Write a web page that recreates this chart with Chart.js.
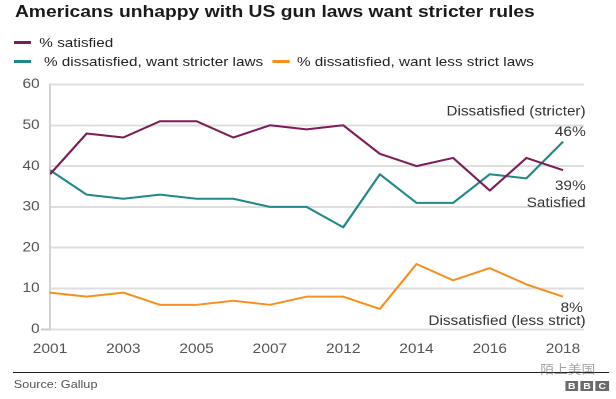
<!DOCTYPE html>
<html>
<head>
<meta charset="utf-8">
<script src="https://cdn.jsdelivr.net/npm/chart.js@4"></script>
<style>
  html, body { margin: 0; padding: 0; background: #fff; }
  body { width: 616px; height: 399px; overflow: hidden; }
  /* the source picture is stretched sideways, so the page is too */
  #page { position: relative; width: 536px; height: 399px; transform: scaleX(1.1493); transform-origin: 0 0;
          font-family: 'Liberation Sans', Arial, sans-serif; }
  #page canvas { position: absolute; left: 0; top: 0; }
  .txt { position: absolute; white-space: nowrap; line-height: 1; }
  .sw { position: absolute; height: 3px; width: 15px; }
  #title { left: 13px; top: 3.9px; font-size: 16.8px; font-weight: bold; color: #1a1a1a; }
  .leg { font-size: 13.3px; color: #222; }
  #rule { position: absolute; left: 11.3px; top: 372px; width: 519px; height: 1px; background: #222; }
  #source { left: 12px; top: 378.7px; font-size: 11px; color: #555; }
  .bbc { position: absolute; top: 381px; width: 11.6px; height: 10px; background: #6b6b6b; color: #fff;
         font: bold 9px 'Liberation Sans', Arial, sans-serif; text-align: center; line-height: 10px; }
  #mark { left: 470px; top: 363px; font-size: 12px; font-family: 'Noto Sans CJK SC', sans-serif; color: rgba(100,100,100,0.6); }
</style>
</head>
<body>
<div id="page">
  <canvas id="chart" width="536" height="399"></canvas>
  <div id="title" class="txt">Americans unhappy with US gun laws want stricter rules</div>

  <div class="sw" style="left:12.2px; top:40.5px; background:#7b1d58"></div>
  <div class="txt leg" style="left:34.2px; top:35.7px">% satisfied</div>
  <div class="sw" style="left:12.2px; top:59.5px; background:#22898a"></div>
  <div class="txt leg" style="left:38.3px; top:54.7px">% dissatisfied, want stricter laws</div>
  <div class="sw" style="left:237px; top:59.5px; background:#f7901e"></div>
  <div class="txt leg" style="left:258.4px; top:54.7px">% dissatisfied, want less strict laws</div>

  <div id="rule"></div>
  <div id="source" class="txt">Source: Gallup</div>
  <div id="mark" class="txt">陌上美国</div>
  <div class="bbc" style="left:491.6px">B</div>
  <div class="bbc" style="left:504.9px">B</div>
  <div class="bbc" style="left:518.2px">C</div>
</div>

<script>
const categories = ["2001", "2002", "2003", "2004", "2005", "2006", "2007", "2008",
                    "2012", "2013", "2014", "2015", "2016", "2017", "2018"];
const satisfied  = [38, 48, 47, 51, 51, 47, 50, 49, 50, 43, 40, 42, 34, 42, 39];
const stricter   = [39, 33, 32, 33, 32, 32, 30, 30, 25, 38, 31, 31, 38, 37, 46];
const lessStrict = [9, 8, 9, 6, 6, 7, 6, 8, 8, 5, 16, 12, 15, 11, 8];
const xTickLabels = ["2001", "2003", "2005", "2007", "2012", "2014", "2016", "2018"];
const yTicks = [0, 10, 20, 30, 40, 50, 60];

const purple = "#7b1d58";
const teal = "#22898a";
const orange = "#f7901e";

Chart.defaults.font.family = "'Liberation Sans', Arial, sans-serif";

const toPoints = (arr) => arr.map((v, i) => ({ x: i, y: v }));

// end-of-line labels, placed off the last point of each series
const endLabels = {
  id: "endLabels",
  afterDatasetsDraw(chart) {
    const ctx = chart.ctx;
    const right = chart.chartArea.right;
    const last = (i) => {
      const pts = chart.getDatasetMeta(i).data;
      return pts[pts.length - 1];
    };
    const pct = (arr) => arr[arr.length - 1] + "%";
    ctx.save();
    ctx.font = "13.4px 'Liberation Sans', Arial, sans-serif";
    ctx.fillStyle = "#333";
    ctx.textAlign = "right";
    ctx.textBaseline = "alphabetic";

    let p = last(1);
    ctx.fillText("Dissatisfied (stricter)", right + 1.5, p.y - 26);
    ctx.fillText(pct(stricter), right + 1.5, p.y - 5.5);

    p = last(0);
    ctx.fillText(pct(satisfied), right + 1.5, p.y + 20);
    ctx.fillText("Satisfied", right + 1.5, p.y + 37);

    p = last(2);
    ctx.fillText(pct(lessStrict), right - 1, p.y + 15.5);
    ctx.fillText("Dissatisfied (less strict)", right + 1.5, p.y + 28.5);
    ctx.restore();
  }
};

new Chart(document.getElementById("chart"), {
  type: "line",
  data: {
    datasets: [
      { label: "% satisfied", data: toPoints(satisfied), borderColor: purple },
      { label: "% dissatisfied, want stricter laws", data: toPoints(stricter), borderColor: teal },
      { label: "% dissatisfied, want less strict laws", data: toPoints(lessStrict), borderColor: orange },
    ],
  },
  options: {
    responsive: false,
    devicePixelRatio: 2,
    animation: false,
    elements: {
      line: { borderWidth: 2, tension: 0, fill: false, borderJoinStyle: "round" },
      point: { radius: 0, hoverRadius: 0 },
    },
    layout: { padding: { left: 0, right: 27.9, top: 84.5, bottom: 39.7 } },
    scales: {
      x: {
        type: "linear",
        min: 0,
        max: categories.length - 1 + 0.57,
        afterFit: (s) => { s.height = 30; },
        afterBuildTicks: (s) => { s.ticks = xTickLabels.map((l) => ({ value: categories.indexOf(l) })); },
        grid: { display: false, drawTicks: false },
        border: { display: false },
        ticks: {
          color: "#555",
          font: { size: 13.5 },
          padding: 12,
          maxRotation: 0,
          autoSkip: false,
          callback: (v) => categories[v],
        },
      },
      y: {
        min: 0,
        max: 60,
        afterFit: (s) => { s.width = 43.5; },
        afterBuildTicks: (s) => { s.ticks = yTicks.map((v) => ({ value: v })); },
        grid: {
          color: "#dedede",
          lineWidth: 2,
          tickLength: 8,
          tickColor: (c) => (c.tick && c.tick.value === 0 ? "#ccc" : "rgba(0,0,0,0)"),
        },
        border: { display: true, color: "#cfcfcf", width: 1.8 },
        ticks: { color: "#555", font: { size: 13.5 }, padding: 1 },
      },
    },
    plugins: {
      legend: { display: false },
      title: { display: false },
      tooltip: { enabled: false },
    },
  },
  plugins: [endLabels],
});
</script>
</body>
</html>
